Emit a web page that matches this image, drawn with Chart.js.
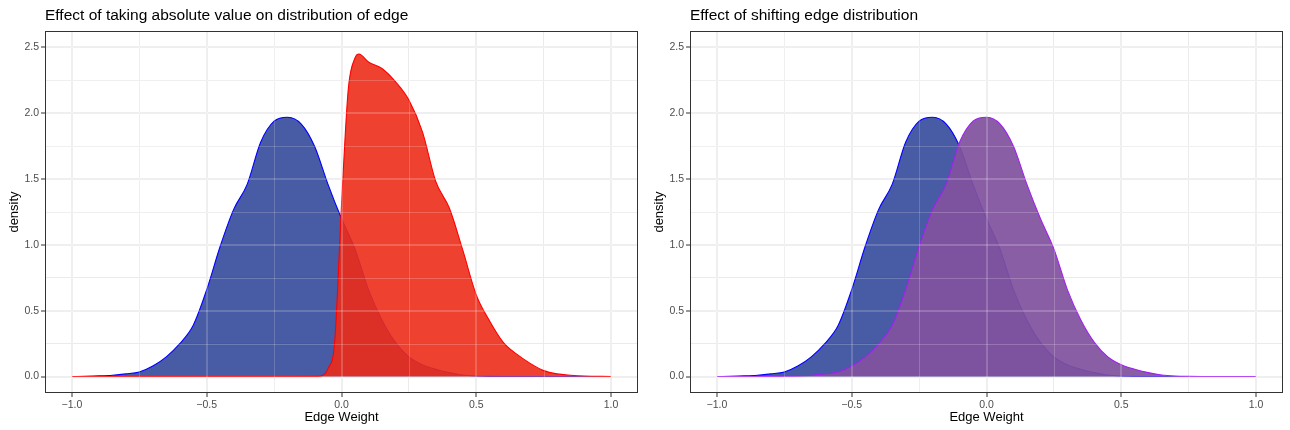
<!DOCTYPE html>
<html>
<head>
<meta charset="utf-8">
<script src="https://cdn.jsdelivr.net/npm/chart.js@4/dist/chart.umd.min.js"></script>
<style>
  body { margin:0; background:#fff; }
  .panel { position:absolute; top:0; width:645px; height:430px; }
</style>
</head>
<body>
<div class="panel" style="left:0"><canvas id="absChart" width="645" height="430"></canvas></div>
<div class="panel" style="left:645px"><canvas id="shiftChart" width="645" height="430"></canvas></div>
<script>
// edge weight grid, step 0.05
const edgeX = [-1,-0.95,-0.9,-0.85,-0.8,-0.75,-0.7,-0.65,-0.6,-0.55,-0.5,-0.45,-0.4,-0.35,-0.3,-0.25,-0.2,-0.15,-0.1,-0.05,
  0,0.05,0.1,0.15,0.2,0.25,0.3,0.35,0.4,0.45,0.5,0.55,0.6,0.65,0.7,0.75,0.8,0.85,0.9,0.95,1];
// original edge density
const originalY = [0,0.002,0.005,0.01,0.02,0.035,0.08,0.15,0.25,0.39,0.66,0.99,1.27,1.46,1.78,1.94,1.97,1.92,1.75,1.46,
  1.2,0.97,0.66,0.43,0.26,0.15,0.09,0.055,0.03,0.012,0.004,0.001,0,0,0,0,0,0,0,0,0];
// shifted edge density
const shiftedY = [0,0,0,0,0,0.002,0.005,0.01,0.02,0.035,0.08,0.15,0.25,0.39,0.66,0.99,1.27,1.46,1.78,1.94,
  1.97,1.92,1.75,1.46,1.2,0.97,0.66,0.43,0.26,0.15,0.09,0.055,0.03,0.012,0.004,0.001,0,0,0,0,0];
// absolute value density
const absX = [-1,-0.5,-0.1,-0.075,-0.05,-0.025,0,0.025,0.05,0.065,0.1,0.15,0.2,0.25,0.3,0.35,0.4,0.45,0.5,0.55,0.6,0.65,0.7,0.75,0.8,0.85,0.9,1];
const absY = [0,0,0.001,0.005,0.06,0.27,1.3,2.18,2.42,2.45,2.39,2.34,2.24,2.1,1.86,1.48,1.28,0.96,0.62,0.42,0.26,0.17,0.1,0.045,0.02,0.01,0.004,0];

const xTicks = [-1,-0.75,-0.5,-0.25,0,0.25,0.5,0.75,1];
const xLabels = ["\u22121.0","","\u22120.5","","0.0","","0.5","","1.0"];
const yTicks = [0,0.25,0.5,0.75,1,1.25,1.5,1.75,2,2.25,2.5];
const yLabels = ["0.0","","0.5","","1.0","","1.5","","2.0","","2.5"];

const pts = (xs, ys) => xs.map((x, i) => ({x: x, y: ys[i]}));

// panel border + faint grid showing through the filled areas
const boxPlugin = {
  id: 'panelBox',
  afterDatasetsDraw(chart) {
    const a = chart.chartArea, ctx = chart.ctx;
    ctx.save();
    ctx.beginPath();
    ctx.rect(a.left, a.top, a.right - a.left, a.bottom - a.top);
    ctx.clip();
    ctx.strokeStyle = 'rgba(255,255,255,0.2)';
    const xs = chart.scales.x, ys = chart.scales.y;
    xTicks.forEach((v, i) => {
      const w = xLabels[i] === '' ? 1 : 2;
      const px = Math.round(xs.getPixelForValue(v)) + (w === 1 ? 0.5 : 0);
      ctx.lineWidth = w;
      ctx.beginPath(); ctx.moveTo(px, a.top); ctx.lineTo(px, a.bottom); ctx.stroke();
    });
    yTicks.forEach((v, i) => {
      const w = yLabels[i] === '' ? 1 : 2;
      const py = Math.round(ys.getPixelForValue(v)) + (w === 1 ? 0.5 : 0);
      ctx.lineWidth = w;
      ctx.beginPath(); ctx.moveTo(a.left, py); ctx.lineTo(a.right, py); ctx.stroke();
    });
    ctx.restore();
  },
  afterDraw(chart) {
    const a = chart.chartArea, ctx = chart.ctx;
    ctx.save();
    ctx.strokeStyle = '#333333';
    ctx.lineWidth = 1;
    ctx.strokeRect(Math.round(a.left) + 0.5, Math.round(a.top) + 0.5, Math.round(a.right - a.left) - 1, Math.round(a.bottom - a.top) - 1);
    ctx.restore();
  }
};

function gridWidth(labels) {
  return ctx => labels[ctx.index] === '' ? 1 : 2;
}
function tickColor(labels) {
  return ctx => labels[ctx.index] === '' ? 'rgba(0,0,0,0)' : '#333333';
}

function makePanel(id, title, datasets) {
  return new Chart(id, {
    type: 'line',
    data: { datasets: datasets },
    plugins: [boxPlugin],
    options: {
      responsive: false,
      animation: false,
      layout: { padding: { left: 0, right: 7, top: 0, bottom: 0 } },
      elements: { point: { radius: 0 }, line: { cubicInterpolationMode: 'monotone', borderWidth: 1.1 } },
      plugins: {
        legend: { display: false },
        tooltip: { enabled: false },
        title: {
          display: true, text: title, align: 'start', fullSize: false,
          color: '#000', font: { family: 'Liberation Sans', size: 15.5, weight: 'normal', lineHeight: 1.2 },
          padding: { top: 6, bottom: 6.4 }
        }
      },
      scales: {
        x: {
          type: 'linear', min: -1.1, max: 1.1,
          afterBuildTicks: s => { s.ticks = xTicks.map(v => ({value: v})); },
          afterFit: s => { s.height = 37; },
          border: { display: false },
          grid: { color: '#EBEBEB', lineWidth: gridWidth(xLabels), tickLength: 4, tickColor: tickColor(xLabels), tickWidth: 1 },
          ticks: { autoSkip: false, maxRotation: 0, padding: 2, color: '#4D4D4D',
            font: { family: 'Liberation Sans', size: 10.5 }, callback: (v, i) => xLabels[i] },
          title: { display: true, text: 'Edge Weight', color: '#000',
            font: { family: 'Liberation Sans', size: 13 }, padding: { top: 0, bottom: 4.5 } }
        },
        y: {
          type: 'linear', min: -0.125, max: 2.625,
          afterBuildTicks: s => { s.ticks = yTicks.map(v => ({value: v})); },
          afterFit: s => { s.width = 45; },
          border: { display: false },
          grid: { color: '#EBEBEB', lineWidth: gridWidth(yLabels), tickLength: 4, tickColor: tickColor(yLabels), tickWidth: 1 },
          ticks: { autoSkip: false, padding: 2, color: '#4D4D4D',
            font: { family: 'Liberation Sans', size: 10.5 }, callback: (v, i) => yLabels[i] },
          title: { display: true, text: 'density', color: '#000',
            font: { family: 'Liberation Sans', size: 13 }, padding: { top: 6.5, bottom: 0 } }
        }
      }
    }
  });
}

const originalSet = () => ({
  label: 'original', data: pts(edgeX, originalY), order: 2, fill: 'origin',
  borderColor: '#0000FF', backgroundColor: 'rgba(20,45,140,0.78)'
});

makePanel('absChart', 'Effect of taking absolute value on distribution of edge', [
  originalSet(),
  { label: 'absolute', data: pts(absX, absY), order: 1, fill: 'origin',
    borderColor: '#FF0000', backgroundColor: 'rgba(237,44,25,0.9)' }
]);

makePanel('shiftChart', 'Effect of shifting edge distribution', [
  originalSet(),
  { label: 'shifted', data: pts(edgeX, shiftedY), order: 1, fill: 'origin',
    borderColor: '#A020F0', backgroundColor: 'rgba(129,82,158,0.93)' }
]);
</script>
</body>
</html>
